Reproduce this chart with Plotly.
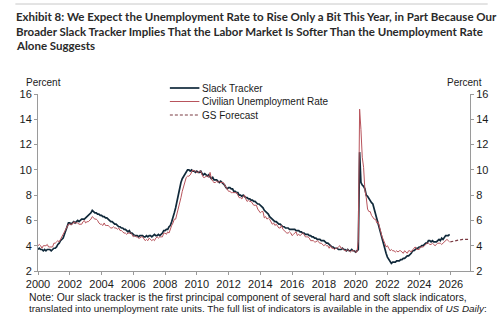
import plotly.graph_objects as go

# Monthly civilian unemployment rate, Jan 2000 - Dec 2025 (percent)
unemployment_by_year = {
    2000: [4.0, 4.1, 4.0, 3.8, 4.0, 4.0, 4.0, 4.1, 3.9, 3.9, 3.9, 3.9],
    2001: [4.2, 4.2, 4.3, 4.4, 4.3, 4.5, 4.6, 4.9, 5.0, 5.3, 5.5, 5.7],
    2002: [5.7, 5.7, 5.7, 5.9, 5.8, 5.8, 5.8, 5.7, 5.7, 5.7, 5.9, 6.0],
    2003: [5.8, 5.9, 5.9, 6.0, 6.1, 6.3, 6.2, 6.1, 6.1, 6.0, 5.8, 5.7],
    2004: [5.7, 5.6, 5.8, 5.6, 5.6, 5.6, 5.5, 5.4, 5.4, 5.5, 5.4, 5.4],
    2005: [5.3, 5.4, 5.2, 5.2, 5.1, 5.0, 5.0, 4.9, 5.0, 5.0, 5.0, 4.9],
    2006: [4.7, 4.8, 4.7, 4.7, 4.6, 4.6, 4.7, 4.7, 4.5, 4.4, 4.5, 4.4],
    2007: [4.6, 4.5, 4.4, 4.5, 4.4, 4.6, 4.7, 4.6, 4.7, 4.7, 4.7, 5.0],
    2008: [5.0, 4.9, 5.1, 5.0, 5.4, 5.6, 5.8, 6.1, 6.1, 6.5, 6.8, 7.3],
    2009: [7.8, 8.3, 8.7, 9.0, 9.4, 9.5, 9.5, 9.6, 9.8, 10.0, 9.9, 9.9],
    2010: [9.8, 9.8, 9.9, 9.9, 9.6, 9.4, 9.4, 9.5, 9.5, 9.4, 9.8, 9.3],
    2011: [9.1, 9.0, 9.0, 9.1, 9.0, 9.1, 9.0, 9.0, 9.0, 8.8, 8.6, 8.5],
    2012: [8.3, 8.3, 8.2, 8.2, 8.2, 8.2, 8.2, 8.0, 7.8, 7.8, 7.7, 7.9],
    2013: [8.0, 7.7, 7.5, 7.6, 7.5, 7.5, 7.3, 7.2, 7.2, 7.2, 6.9, 6.7],
    2014: [6.6, 6.7, 6.7, 6.2, 6.3, 6.1, 6.2, 6.1, 5.9, 5.7, 5.8, 5.6],
    2015: [5.7, 5.5, 5.4, 5.4, 5.6, 5.3, 5.2, 5.1, 5.0, 5.0, 5.1, 5.0],
    2016: [4.8, 4.9, 5.0, 5.1, 4.8, 4.9, 4.8, 4.9, 5.0, 4.9, 4.7, 4.7],
    2017: [4.7, 4.6, 4.4, 4.4, 4.4, 4.3, 4.3, 4.4, 4.3, 4.2, 4.2, 4.1],
    2018: [4.0, 4.1, 4.0, 4.0, 3.8, 4.0, 3.8, 3.8, 3.7, 3.8, 3.8, 3.9],
    2019: [4.0, 3.8, 3.8, 3.7, 3.6, 3.6, 3.7, 3.6, 3.5, 3.6, 3.6, 3.6],
    2020: [3.5, 3.5, 4.4, 14.8, 13.2, 11.0, 10.2, 8.4, 7.8, 6.9, 6.7, 6.7],
    2021: [6.4, 6.2, 6.1, 6.1, 5.8, 5.9, 5.4, 5.1, 4.7, 4.5, 4.2, 3.9],
    2022: [4.0, 3.8, 3.6, 3.7, 3.6, 3.6, 3.5, 3.6, 3.5, 3.6, 3.6, 3.5],
    2023: [3.4, 3.6, 3.5, 3.4, 3.6, 3.6, 3.5, 3.7, 3.8, 3.9, 3.7, 3.7],
    2024: [3.7, 3.9, 3.9, 3.9, 4.0, 4.1, 4.2, 4.2, 4.1, 4.1, 4.2, 4.1],
    2025: [4.0, 4.1, 4.2, 4.2, 4.2, 4.1, 4.2, 4.3, 4.4, 4.5, 4.4, 4.3],
}

# Slack tracker in unemployment-rate units, Jan 2000 - Dec 2025
slack_by_year = {
    2000: [3.7, 3.8, 3.7, 3.7, 3.6, 3.7, 3.6, 3.7, 3.7, 3.7, 3.6, 3.7],
    2001: [3.8, 3.8, 3.9, 4.1, 4.2, 4.4, 4.5, 4.6, 4.9, 5.2, 5.5, 5.8],
    2002: [5.8, 5.7, 5.8, 5.9, 5.8, 5.9, 6.0, 5.9, 6.0, 6.1, 6.1, 6.1],
    2003: [6.2, 6.3, 6.4, 6.5, 6.6, 6.8, 6.7, 6.6, 6.6, 6.5, 6.5, 6.4],
    2004: [6.4, 6.3, 6.3, 6.2, 6.2, 6.1, 6.0, 5.9, 5.9, 5.8, 5.7, 5.7],
    2005: [5.6, 5.5, 5.5, 5.4, 5.4, 5.3, 5.3, 5.2, 5.1, 5.2, 5.0, 5.0],
    2006: [4.9, 4.8, 4.8, 4.8, 4.7, 4.8, 4.8, 4.8, 4.7, 4.7, 4.8, 4.7],
    2007: [4.8, 4.8, 4.7, 4.8, 4.9, 4.8, 4.8, 4.9, 4.8, 4.9, 5.0, 5.2],
    2008: [5.2, 5.3, 5.3, 5.5, 5.6, 5.9, 6.2, 6.6, 7.0, 7.5, 8.0, 8.6],
    2009: [9.0, 9.3, 9.5, 9.7, 9.9, 10.0, 10.0, 9.9, 10.0, 9.9, 9.9, 9.8],
    2010: [9.9, 9.8, 9.8, 9.9, 9.7, 9.6, 9.7, 9.6, 9.5, 9.6, 9.4, 9.3],
    2011: [9.4, 9.2, 9.2, 9.2, 9.1, 9.0, 9.1, 9.0, 8.9, 8.8, 8.6, 8.5],
    2012: [8.6, 8.6, 8.5, 8.5, 8.3, 8.3, 8.2, 8.2, 8.0, 8.0, 7.9, 8.0],
    2013: [7.9, 7.8, 7.8, 7.7, 7.7, 7.6, 7.6, 7.5, 7.5, 7.4, 7.3, 7.3],
    2014: [7.2, 7.1, 7.0, 6.8, 6.7, 6.6, 6.5, 6.3, 6.2, 6.1, 6.0, 5.9],
    2015: [5.9, 5.8, 5.7, 5.7, 5.6, 5.5, 5.5, 5.4, 5.4, 5.4, 5.3, 5.3],
    2016: [5.3, 5.3, 5.3, 5.2, 5.2, 5.2, 5.1, 5.1, 5.0, 5.0, 4.9, 4.9],
    2017: [4.9, 4.8, 4.8, 4.7, 4.7, 4.6, 4.6, 4.5, 4.5, 4.5, 4.4, 4.4],
    2018: [4.4, 4.3, 4.2, 4.2, 4.1, 4.0, 3.9, 3.9, 3.8, 3.8, 3.8, 3.7],
    2019: [3.7, 3.7, 3.8, 3.7, 3.7, 3.6, 3.7, 3.6, 3.6, 3.7, 3.6, 3.6],
    2020: [3.5, 3.6, 3.7, 11.4, 9.0, 8.8, 8.7, 8.5, 8.0, 7.9, 7.7, 7.5],
    2021: [7.4, 7.3, 6.9, 6.4, 6.0, 5.7, 5.3, 4.9, 4.5, 4.1, 3.8, 3.4],
    2022: [3.1, 2.9, 2.7, 2.6, 2.7, 2.7, 2.7, 2.8, 2.8, 2.8, 2.9, 2.9],
    2023: [3.0, 3.0, 3.1, 3.2, 3.2, 3.3, 3.4, 3.6, 3.6, 3.7, 3.8, 3.8],
    2024: [3.9, 3.9, 4.0, 4.0, 4.1, 4.2, 4.2, 4.4, 4.4, 4.3, 4.4, 4.3],
    2025: [4.3, 4.3, 4.4, 4.5, 4.4, 4.6, 4.5, 4.7, 4.8, 4.8, 4.8, 4.9],
}

# GS forecast of the unemployment rate (decimal years)
forecast_dates = [2025.96, 2026.25, 2026.5, 2026.75, 2027.0, 2027.2]
forecast_values = [4.3, 4.4, 4.45, 4.5, 4.5, 4.5]

x_ticks = list(range(2000, 2027, 2))
y_ticks = list(range(2, 17, 2))

series_names = ["Slack Tracker", "Civilian Unemployment Rate", "GS Forecast"]


def monthly_series(by_year):
    xs, ys = [], []
    for year, vals in by_year.items():
        for m, v in enumerate(vals):
            xs.append(year + m / 12)
            ys.append(v)
    return xs, ys


ur_x, ur_y = monthly_series(unemployment_by_year)
st_x, st_y = monthly_series(slack_by_year)

FONT = "Liberation Sans, Arial, sans-serif"
TEXT = "#1a1a1a"
AXIS = "#9a9a9a"

W, H = 500, 325
L, R, T, B = 38, 23, 94, 54
PW, PH = W - L - R, H - T - B


def px(xpix):
    return (xpix - L) / PW


def py(ypix):
    return (H - B - ypix) / PH


styles = [
    dict(color="#10293a", width=1.7),
    dict(color="#b8545c", width=1),
    dict(color="#7a3a42", width=1.2, dash="3px,2px"),
]

fig = go.Figure()
fig.add_trace(go.Scatter(x=st_x, y=st_y, mode="lines", name=series_names[0],
                         line=styles[0], showlegend=False))
fig.add_trace(go.Scatter(x=ur_x, y=ur_y, mode="lines", name=series_names[1],
                         line=styles[1], showlegend=False))
fig.add_trace(go.Scatter(x=forecast_dates, y=forecast_values, mode="lines",
                         name=series_names[2], line=styles[2], showlegend=False))
# carrier for the right-hand axis
fig.add_trace(go.Scatter(x=[2000], y=[2], yaxis="y2", mode="markers",
                         marker=dict(opacity=0), showlegend=False, hoverinfo="skip"))

tickfont = dict(family=FONT, size=11, color=TEXT)
axis_common = dict(ticks="outside", ticklen=3, tickcolor=AXIS, showline=True,
                   linecolor=AXIS, linewidth=1, showgrid=False, zeroline=False,
                   tickfont=tickfont)
fig.update_layout(
    width=W, height=H,
    margin=dict(l=L, r=R, t=T, b=B),
    paper_bgcolor="white", plot_bgcolor="white",
    xaxis=dict(range=[2000, 2027.2], tickvals=x_ticks, **axis_common),
    yaxis=dict(range=[2, 16], tickvals=y_ticks, **axis_common),
    yaxis2=dict(range=[2, 16], tickvals=y_ticks, overlaying="y", side="right",
                **axis_common),
)

# Legend: short line samples with labels
for i, (name, st) in enumerate(zip(series_names, styles)):
    yy = py(88 + i * 13.5)
    fig.add_shape(type="line", xref="paper", yref="paper", x0=px(172), x1=px(202),
                  y0=yy, y1=yy, line=st)
    fig.add_annotation(text=name, xref="paper", yref="paper", x=px(203), y=yy,
                       xanchor="left", yanchor="middle", showarrow=False,
                       font=dict(family=FONT, size=10, color=TEXT))

title_lines = [
    "Exhibit 8: We Expect the Unemployment Rate to Rise Only a Bit This Year, in Part Because Our",
    "Broader Slack Tracker Implies That the Labor Market Is Softer Than the Unemployment Rate",
    "Alone Suggests",
]
title_font = dict(family="Lato, sans-serif", size=11.5, color="#2a2a2a")
for i, line in enumerate(title_lines):
    fig.add_annotation(text="<b>" + line + "</b>", xref="paper", yref="paper",
                       x=px(14), y=py(17 + i * 14), xanchor="left", yanchor="middle",
                       showarrow=False, font=title_font)

fig.add_shape(type="line", xref="paper", yref="paper", x0=px(15), x1=px(495),
              y0=py(4), y1=py(4), line=dict(color="#c8c8c8", width=1))

pct_font = dict(family=FONT, size=10, color=TEXT)
fig.add_annotation(text="Percent", xref="paper", yref="paper", x=px(24), y=py(82),
                   xanchor="left", yanchor="middle", showarrow=False, font=pct_font)
fig.add_annotation(text="Percent", xref="paper", yref="paper", x=px(491), y=py(82),
                   xanchor="right", yanchor="middle", showarrow=False, font=pct_font)

note_lines = [
    ("Note: Our slack tracker is the first principal component of several hard and soft slack indicators,", 10.4),
    ("translated into unemployment rate units. The full list of indicators is available in the appendix of <i>US Daily</i>:", 9.9),
]
for i, (line, size) in enumerate(note_lines):
    fig.add_annotation(text=line, xref="paper", yref="paper", x=px(27), y=py(297 + i * 11.5),
                       xanchor="left", yanchor="middle", showarrow=False,
                       font=dict(family=FONT, size=size, color=TEXT))

fig.write_html("out.html")
